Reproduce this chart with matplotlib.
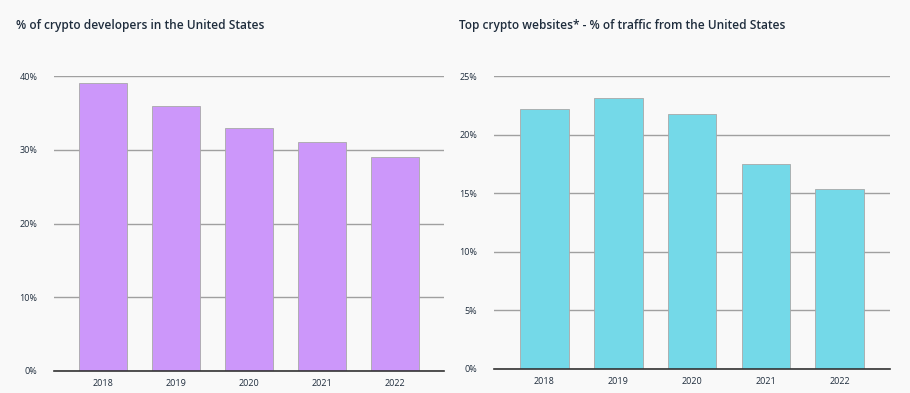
import matplotlib.pyplot as plt
import numpy as np

plt.rcParams['font.family'] = ['Open Sans', 'DejaVu Sans']

years = ['2018', '2019', '2020', '2021', '2022']
dev_share = [39, 36, 33, 31, 29]
traffic_share = [22.2, 23.1, 21.8, 17.5, 15.4]

bg = '#f9f9f9'
txt = '#1f2d3d'


def draw(ax, values, color, ticks, title, title_x):
    x = np.arange(len(years))
    ax.set_facecolor(bg)
    ax.bar(x, values, width=0.66, color=color, edgecolor='#a8a8a8', linewidth=0.6, zorder=3)
    ax.set_xlim(-0.68, len(years) - 1 + 0.68)
    ax.set_ylim(0, ticks[-1])
    ax.set_yticks(ticks)
    ax.set_yticklabels([f'{t}%' for t in ticks])
    ax.set_xticks(x)
    ax.set_xticklabels(years)
    ax.grid(axis='y', color='#a0a0a0', linewidth=1.0, zorder=0)
    for s in ['top', 'right', 'left']:
        ax.spines[s].set_visible(False)
    ax.spines['bottom'].set_color('#333333')
    ax.spines['bottom'].set_linewidth(1.2)
    ax.spines['bottom'].set_zorder(4)
    ax.tick_params(length=0, labelsize=6.5, colors=txt)
    ax.tick_params(axis='y', pad=12)
    ax.tick_params(axis='x', pad=6)
    fig.text(title_x, 0.935, title, fontsize=8.6, fontweight='semibold', color=txt, va='center')


fig = plt.figure(figsize=(9.1, 3.93), dpi=100, facecolor=bg)
ax1 = fig.add_axes([54 / 910, 1 - 371 / 393, 390 / 910, 295 / 393])
ax2 = fig.add_axes([494 / 910, 1 - 369 / 393, 396 / 910, 293 / 393])

draw(ax1, dev_share, '#cc97fa', [0, 10, 20, 30, 40],
     '% of crypto developers in the United States', 16 / 910)
draw(ax2, traffic_share, '#74d9e8', [0, 5, 10, 15, 20, 25],
     'Top crypto websites* - % of traffic from the United States', 459 / 910)

fig.savefig('out.png', dpi=100, facecolor=bg)
